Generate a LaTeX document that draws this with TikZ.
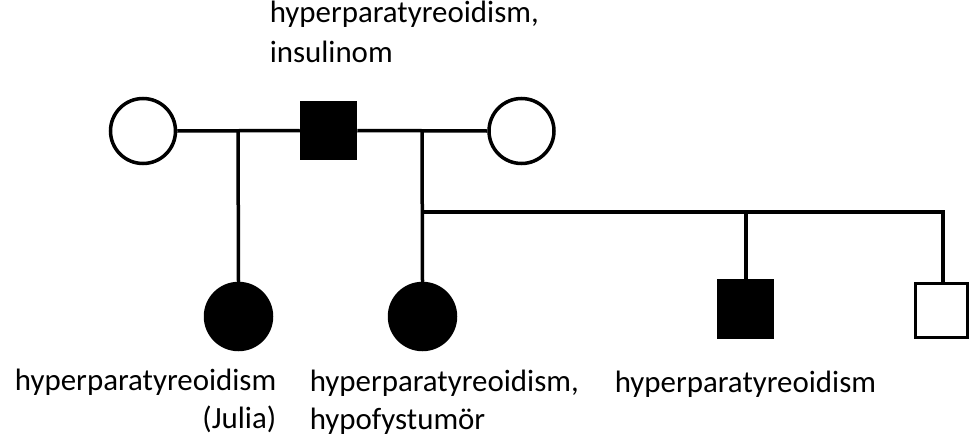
\documentclass[tikz,border=0pt]{standalone}
\usepackage{fontspec}
\setmainfont{Carlito}
\begin{document}
\begin{tikzpicture}[x=1pt,y=-1pt,
  line width=3.5pt,
  female/.style={circle,draw=black,line width=3.5pt,minimum size=65pt,inner sep=0pt},
  male/.style={rectangle,draw=black,line width=3.5pt,minimum width=54pt,minimum height=56pt,inner sep=0pt},
  aff/.style={fill=black},
  unaff/.style={fill=white},
  lbl/.style={inner sep=0pt,font=\fontsize{30.9}{39}\selectfont,text=black}]
\useasboundingbox (0,0) rectangle (971,439);
% parents generation
\node[female,unaff] (f1) at (143,131) {};
\node[male,aff] (m1) at (328.5,130.5) {};
\node[female,unaff] (f2) at (521.5,131) {};
% children
\node[female,aff,minimum size=66pt] (d1) at (238.5,316.5) {};
\node[female,aff,minimum size=66pt] (d2) at (422.5,316.5) {};
\node[male,aff] (s1) at (745.5,309) {};
\node[male,unaff,minimum width=52pt,minimum height=54pt] (s2) at (941.5,310.5) {};
% coordinates
\coordinate (c1) at (238,130);
\coordinate (c2) at (422,130);
\coordinate (b0) at (422,212);
\coordinate (b1) at (746,212);
\coordinate (b2) at (943,212);
% connectors
\draw (f1.east) -- (m1.west);
\draw (m1.east) -- (f2.west);
\draw (c1) -- (d1.north);
\draw (c2) -- (d2.north);
\draw (b0) -- (b2) -- (b2 |- s2.north);
\draw (b1) -- (b1 |- s1.north);
% labels
\node[lbl,anchor=base west] (t1) at (268,23) {hyperparatyreoidism,};
\node[lbl,anchor=base west] (t2) at (268,62) {insulinom};
\node[lbl,anchor=base east] (l1) at (278,390) {hyperparatyreoidism};
\node[lbl,anchor=base east] (l2) at (278,428) {(Julia)};
\node[lbl,anchor=base west] (m1a) at (308,391) {hyperparatyreoidism,};
\node[lbl,anchor=base west] (m1b) at (308,429) {hypofystumör};
\node[lbl,anchor=base west] (r1) at (613,392) {hyperparatyreoidism};
\end{tikzpicture}
\end{document}
